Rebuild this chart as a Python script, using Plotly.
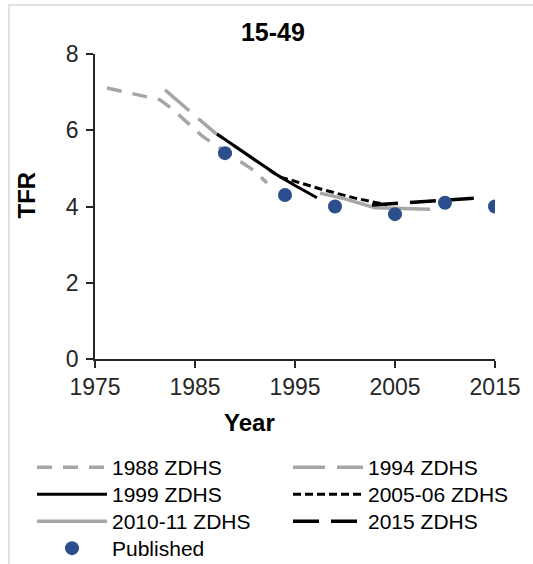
import plotly.graph_objects as go

# ---- data ----
yr_1988 = [1976.2, 1980.3, 1981.5, 1982.8, 1984.8, 1985.8, 1990.8, 1992.2]
tfr_1988 = [7.11, 6.88, 6.80, 6.54, 6.06, 5.83, 4.96, 4.62]

yr_1994 = [1982.0, 1984.3, 1985.2, 1987.0, 1990.0, 1993.0]
tfr_1994 = [7.06, 6.54, 6.33, 5.93, 5.40, 4.85]

yr_1999 = [1987.2, 1990.0, 1993.2, 1995.0, 1997.2]
tfr_1999 = [5.90, 5.40, 4.83, 4.55, 4.23]

yr_2005 = [1993.5, 1994.5, 1997.8, 2001.0, 2004.2]
tfr_2005 = [4.77, 4.70, 4.44, 4.22, 4.04]

yr_2010 = [1997.5, 2000.0, 2003.0, 2008.5]
tfr_2010 = [4.35, 4.20, 3.97, 3.93]

yr_2015 = [2002.7, 2006.0, 2009.2, 2013.2]
tfr_2015 = [4.04, 4.09, 4.15, 4.22]

pub_years = [1988, 1994, 1999, 2005, 2010, 2015]
pub_tfr = [5.4, 4.3, 4.0, 3.8, 4.1, 4.0]

x_ticks = [1975, 1985, 1995, 2005, 2015]
y_ticks = [0, 2, 4, 6, 8]

GRAY = "#A6A6A6"
BLACK = "#000000"
BLUE = "#2C4E8C"
FONT = "Liberation Sans, Arial, sans-serif"

W, H = 533, 564
ML, MR, MT, MB = 95, 38, 54, 205
PW, PH = W - ML - MR, H - MT - MB


def px_to_paper(px, py):
    return (px - ML) / PW, (H - MB - py) / PH


fig = go.Figure()
# (name, x, y, colour, width, dash)
series = [
    ("1988 ZDHS", yr_1988, tfr_1988, GRAY, 3.5, "15px,11px"),
    ("1994 ZDHS", yr_1994, tfr_1994, GRAY, 3.5, "32px,12px"),
    ("1999 ZDHS", yr_1999, tfr_1999, BLACK, 3, "solid"),
    ("2005-06 ZDHS", yr_2005, tfr_2005, BLACK, 3, "8px,4px"),
    ("2010-11 ZDHS", yr_2010, tfr_2010, GRAY, 3.5, "solid"),
    ("2015 ZDHS", yr_2015, tfr_2015, BLACK, 3.5, "26px,12px"),
]
legend_ids = ["legend", "legend2", "legend3", "legend4", "legend5", "legend6", "legend7"]
for (name, xs, ys, col, w, dash), lg in zip(series, legend_ids):
    fig.add_trace(go.Scatter(x=xs, y=ys, mode="lines", name=name, legend=lg,
                             line=dict(color=col, width=w, dash=dash)))
fig.add_trace(go.Scatter(x=pub_years, y=pub_tfr, mode="markers", name="Published",
                         legend=legend_ids[6], marker=dict(color=BLUE, size=14)))

axis_common = dict(showline=True, linecolor="#262626", linewidth=1.5,
                   ticks="outside", ticklen=7, tickwidth=1.5, tickcolor="#262626",
                   showgrid=False, zeroline=False,
                   tickfont=dict(family=FONT, size=23, color="#262626"))

fig.update_xaxes(range=[1975, 2015], tickvals=x_ticks, ticktext=[str(v) for v in x_ticks],
                 **axis_common)
fig.update_yaxes(range=[0, 8], tickvals=y_ticks, ticktext=[str(v) for v in y_ticks],
                 ticklabelstandoff=3, **axis_common)

# axis titles as annotations (exact placement)
tx, ty = px_to_paper(25.5, 195)
yx, yy = px_to_paper(249.5, 422)
fig.add_annotation(text="<b>TFR</b>", x=tx, y=ty, xref="paper", yref="paper",
                   textangle=-90, showarrow=False, xanchor="center", yanchor="middle",
                   font=dict(family=FONT, size=24, color="#000"))
fig.add_annotation(text="<b>Year</b>", x=yx, y=yy, xref="paper", yref="paper",
                   showarrow=False, xanchor="center", yanchor="middle",
                   font=dict(family=FONT, size=24, color="#000"))

# light chart border
bx0, by0 = px_to_paper(9, 5)
fig.add_shape(type="rect", xref="paper", yref="paper",
              x0=bx0, x1=1.3, y0=-0.8, y1=by0,
              line=dict(color="#D9D9D9", width=1.5), fillcolor="rgba(0,0,0,0)", layer="below")

legend_common = dict(orientation="v", xanchor="left", yanchor="top",
                     xref="container", yref="container",
                     font=dict(family=FONT, size=21, color="#000"),
                     itemwidth=70, bgcolor="rgba(0,0,0,0)", tracegroupgap=0)

row_centers = [466, 466, 493, 493, 520, 520, 547]
col_x = [32, 288, 32, 288, 32, 288, 32]
legends = {}
for lg, rc, cx in zip(legend_ids, row_centers, col_x):
    legends[lg] = dict(x=cx / W, y=1 - (rc - 19) / H, **legend_common)

fig.update_layout(
    width=W, height=H,
    margin=dict(l=ML, r=MR, t=MT, b=MB, autoexpand=False),
    paper_bgcolor="white", plot_bgcolor="white",
    font=dict(family=FONT, color="#000"),
    title=dict(text="<b>15-49</b>", x=0.512, xanchor="center", xref="container",
               y=1 - 23 / H, yanchor="top", yref="container",
               font=dict(family=FONT, size=25, color="#000")),
    showlegend=True,
    **legends,
)

fig.write_html("out.html")
